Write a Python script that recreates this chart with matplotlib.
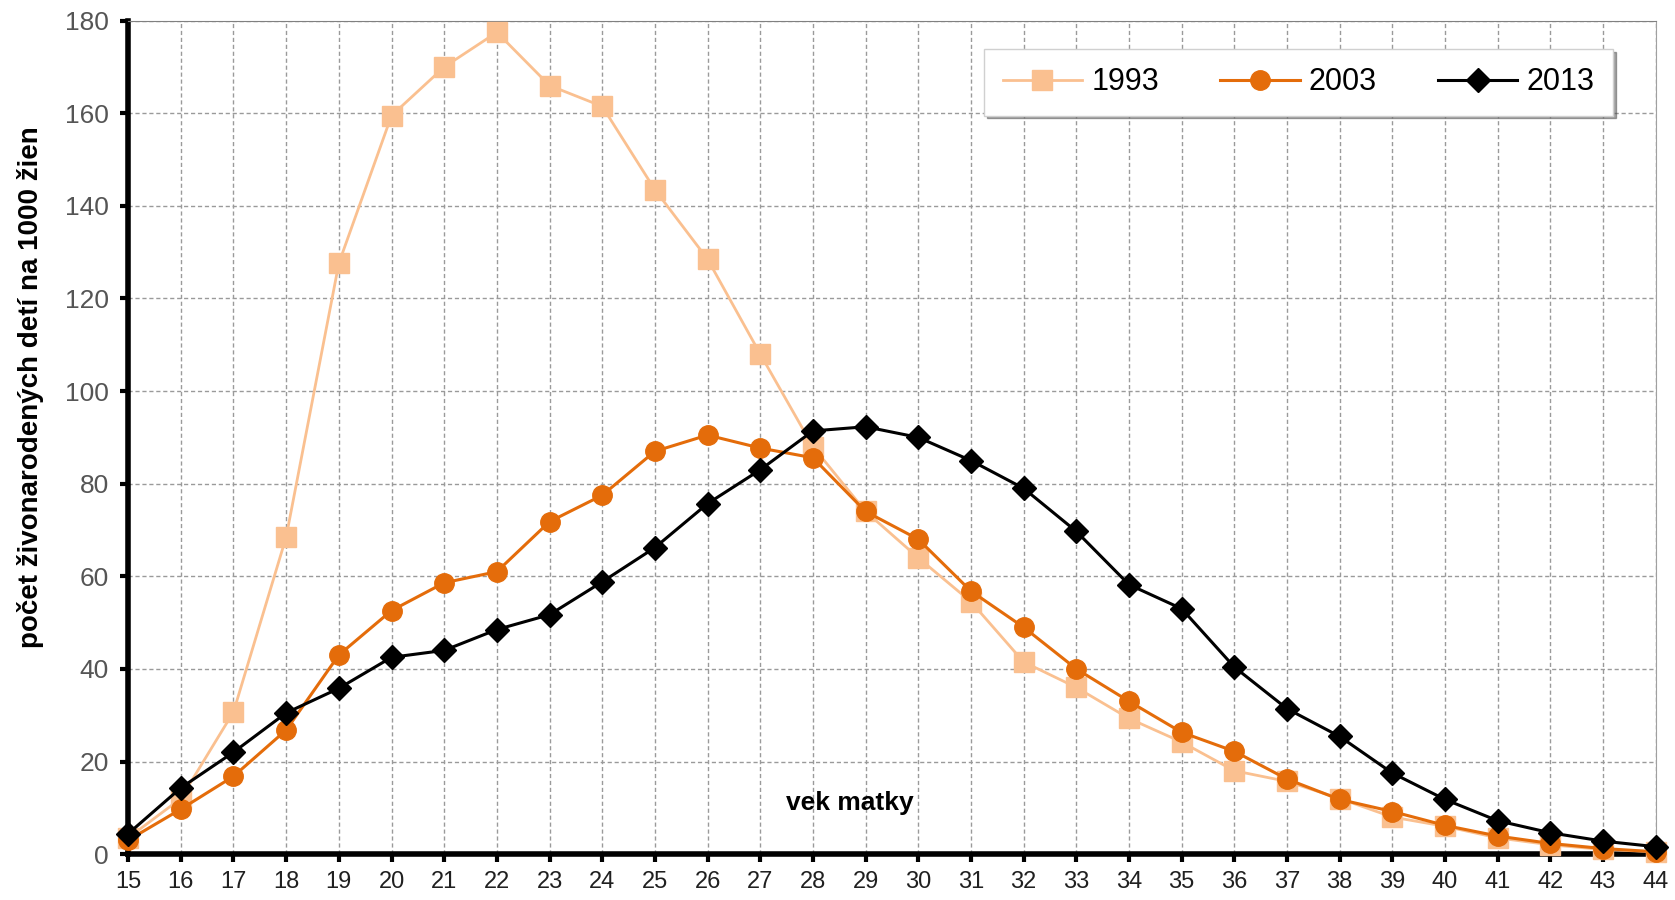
import numpy as np
import matplotlib
matplotlib.use('Agg')
import matplotlib.pyplot as plt

plt.rcParams['font.family'] = ['Liberation Sans', 'DejaVu Sans']

vek = np.arange(15, 45)
r1993 = [3.5, 12, 30.7, 68.5, 127.6, 159.5, 170, 177.5, 166, 161.5,
         143.5, 128.5, 108, 88, 74, 64, 54.5, 41.5, 36, 29.3,
         24.2, 18, 15.7, 12, 8, 6, 3.5, 2, 1, 0.5]
r2003 = [3, 9.7, 16.8, 26.8, 43, 52.6, 58.6, 61, 71.8, 77.5,
         87, 90.5, 87.7, 85.6, 74, 68, 56.8, 49, 40, 33,
         26.3, 22.2, 16.2, 11.8, 9.2, 6.2, 3.9, 2.3, 1.2, 0.5]
r2013 = [4.4, 14.3, 22, 30.5, 35.8, 42.5, 44, 48.5, 51.7, 58.8,
         66.2, 75.7, 83, 91.4, 92.3, 90, 85, 79, 69.7, 58.2,
         53, 40.4, 31.4, 25.4, 17.5, 11.8, 7.2, 4.6, 2.8, 1.6]

fig = plt.figure(figsize=(16.75, 9), dpi=100)
ax = fig.add_axes([0.0765, 0.051, 0.912, 0.926])

ax.plot(vek, r1993, color='#FAC090', lw=2, marker='s', ms=15, label='1993', clip_on=False, zorder=3)
ax.plot(vek, r2003, color='#E46C0A', lw=2.2, marker='o', ms=14, label='2003', clip_on=False, zorder=4)
ax.plot(vek, r2013, color='black', lw=2.2, marker='D', ms=12, label='2013', clip_on=False, zorder=5)

ax.set_xlim(15, 44)
ax.set_ylim(0, 180)
ax.set_xticks(vek)
ax.set_yticks(np.arange(0, 181, 20))
ax.grid(True, ls=(0, (3, 2)), color='#9a9a9a', lw=1)
ax.set_axisbelow(True)

ax.spines['left'].set_linewidth(4)
ax.spines['bottom'].set_linewidth(4)
ax.spines['top'].set_color('#808080')
ax.spines['right'].set_color('#a0a0a0')
ax.tick_params(axis='both', length=6, width=3, direction='out', color='black')
ax.tick_params(axis='y', labelsize=19, labelcolor='#555555', pad=8)
ax.tick_params(axis='x', labelsize=17, labelcolor='#202020', pad=6)

ax.set_ylabel('počet živonarodených detí na 1000 žien', fontsize=20, fontweight='bold')
ax.yaxis.set_label_coords(-0.055, 0.56)
ax.text(28.7, 11, 'vek matky', fontsize=19, fontweight='bold', ha='center', va='center')

leg = ax.legend(loc='upper right', ncol=3, fontsize=22, frameon=True, shadow=True, fancybox=False,
                bbox_to_anchor=(0.972, 0.966), borderaxespad=0, handlelength=2.6, columnspacing=2.0,
                borderpad=0.6, handletextpad=0.3)
leg.get_frame().set_edgecolor('#d0d0d0')

plt.savefig('out.png', dpi=100)
